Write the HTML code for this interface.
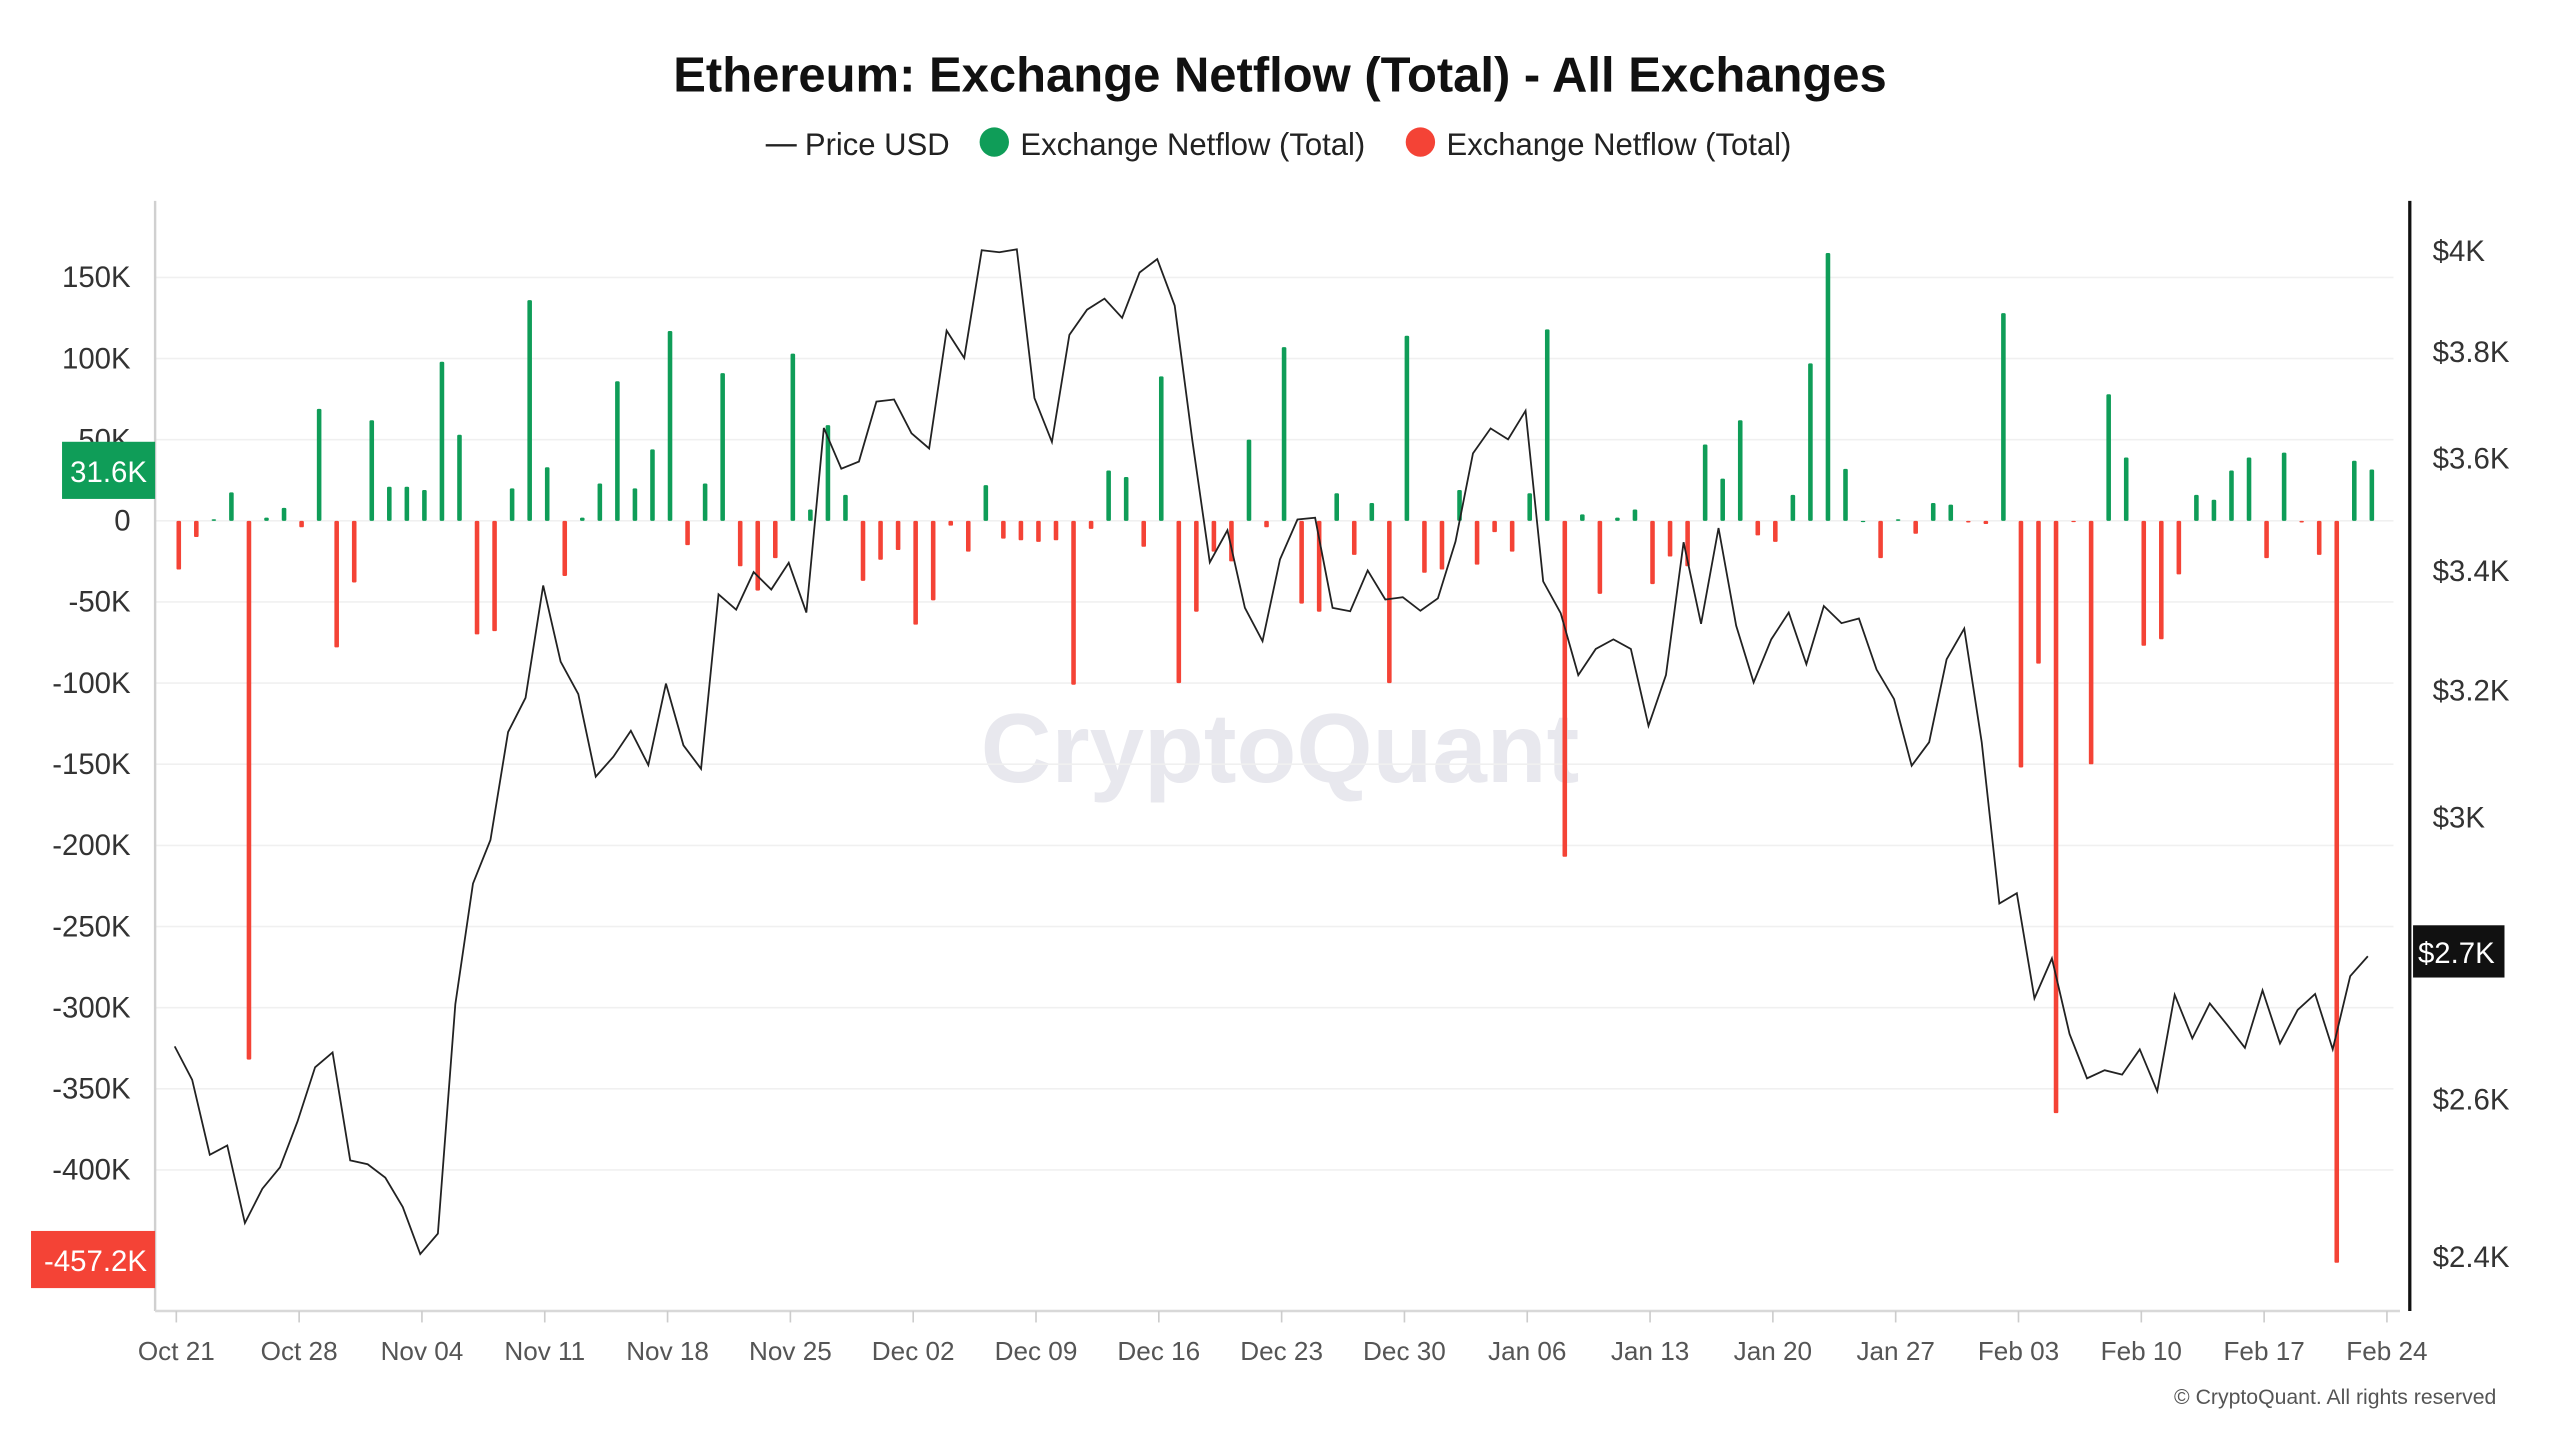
<!DOCTYPE html>
<html><head><meta charset="utf-8"><title>Ethereum Exchange Netflow</title>
<style>
html,body{margin:0;padding:0;background:#fff;}
svg{display:block;font-family:"Liberation Sans",sans-serif;}
</style></head>
<body>
<svg id="chart" width="2560" height="1440" viewBox="0 0 1568 882" xmlns="http://www.w3.org/2000/svg">
<rect x="0" y="0" width="1568" height="882" fill="#fff"/>
<text x="784" y="56" text-anchor="middle" font-size="30" font-weight="bold" fill="#111">Ethereum: Exchange Netflow (Total) - All Exchanges</text>
<g font-size="19" fill="#222">
  <g><line x1="469" y1="89" x2="488" y2="89" stroke="#222" stroke-width="1.5"/><text x="493" y="95">Price USD</text></g>
  <g><circle cx="609" cy="87" r="9" fill="#0f9d58"/><text x="625" y="95">Exchange Netflow (Total)</text></g>
  <g><circle cx="870" cy="87" r="9" fill="#f44336"/><text x="886" y="95">Exchange Netflow (Total)</text></g>
</g>
<text x="784" y="479" text-anchor="middle" font-size="60" font-weight="bold" fill="#e8e8ee">CryptoQuant</text>
<g id="grid"></g>
<g id="yLeft"></g>
<g id="yRight"></g>
<g id="xAxis"></g>
<g id="bars"></g>
<g id="line"></g>
<g id="badges"></g>
<text x="1529" y="860" text-anchor="end" font-size="13" fill="#555">© CryptoQuant. All rights reserved</text>
</svg>
<script>
const netflowK = [-30,-10,1,17.5,-332,2,8,-4,69,-78,-38,62,21,21,19,98,53,-70,-68,20,136,33,-34,2,23,86,20,44,117,-15,23,91,-28,-43,-23,103,7,59,16,-37,-24,-18,-64,-49,
-3,-19,22,-11,-12,-13,-12,-101,-5,31,27,-16,89,-100,-56,-19,-25,50,-4,107,-51,-56,17,-21,11,-100,114,-32,-30,19,-27,-7,-19,17,118,-207,4,-45,2,7,-39,-22,-28,47,26,
62,-9,-13,16,97,165,32,0,-23,1,-8,11,10,-1,-2,128,-152,-88,-365,-0.5,-150,78,39,-77,-73,-33,16,13,31,39,-23,42,-1,-21,-457.2,37,31.6];
const priceUSD = [2669,2624,2526,2538,2440,2483,2510,2569,2641,2661,2519,2514,2497,2460,2402,2427,2727,2899,2964,3131,3186,3373,3245,3192,3061,3092,3133,3079,3209,3110,3073,3358,3332,3396,3366,3412,3327,3654,3579,3592,3703,3707,3644,3616,
3839,3786,3999,3995,4001,3710,3628,3831,3880,3902,3864,3954,3981,3888,3631,3413,3469,3335,3279,3418,3488,3491,3335,3329,3399,3349,3353,3330,3351,3449,3607,3653,3633,3686,3380,3326,3223,3266,3282,3266,3141,3223,3448,3308,3473,
3305,3211,3282,3327,3241,3338,3309,3317,3232,3184,3078,3115,3249,3300,3115,2870,2885,2735,2791,2686,2626,2637,2631,2665,2609,2740,2680,2728,2698,2667,2746,2673,2719,2741,2665,2766,2794];
const leftTicks = [150,100,50,0,-50,-100,-150,-200,-250,-300,-350,-400];
const leftTickLabels = ["150K","100K","50K","0","-50K","-100K","-150K","-200K","-250K","-300K","-350K","-400K"];
const rightTicks = [4000,3800,3600,3400,3200,3000,2600,2400];
const rightTickLabels = ["$4K","$3.8K","$3.6K","$3.4K","$3.2K","$3K","$2.6K","$2.4K"];
const xTickLabels = ["Oct 21","Oct 28","Nov 04","Nov 11","Nov 18","Nov 25","Dec 02","Dec 09","Dec 16","Dec 23","Dec 30","Jan 06","Jan 13","Jan 20","Jan 27","Feb 03","Feb 10","Feb 17","Feb 24"];

const NS="http://www.w3.org/2000/svg";
const X0=108, DAY=10.746, PL=95, PR=1466;
const xScale=d=>X0+d*DAY;
const yLeft=k=>319-k/50*49.7;
const yRight=p=>153+1206*Math.log(4000/p);
function mk(tag,attrs,parent){const e=document.createElementNS(NS,tag);for(const k in attrs)e.setAttribute(k,attrs[k]);parent.appendChild(e);return e;}

const grid=document.getElementById('grid'), gl=document.getElementById('yLeft'), gr=document.getElementById('yRight'), gx=document.getElementById('xAxis');
leftTicks.forEach((t,i)=>{
  const y=yLeft(t);
  const ln=mk('line',{x1:PL,x2:PR,y1:y,y2:y,stroke:'#f0f0f0','stroke-width':1},grid);
  
  
  const tx=mk('text',{x:80,y:y+6,'text-anchor':'end','font-size':18,fill:'#333'},gl);
  tx.textContent=leftTickLabels[i];
  
  
});
const la=mk('line',{x1:95,x2:95,y1:123,y2:803,stroke:'#d0d0d0','stroke-width':1.5},gl);


const ra=mk('line',{x1:1476,x2:1476,y1:123,y2:803,stroke:'#111','stroke-width':2},gr);


rightTicks.forEach((t,i)=>{
  const tx=mk('text',{x:1490,y:yRight(t)+7,'font-size':18,fill:'#333'},gr);
  tx.textContent=rightTickLabels[i];
  
  
});
const bl=mk('line',{x1:95,x2:1470,y1:803,y2:803,stroke:'#d8d8d8','stroke-width':1.5},gx);


xTickLabels.forEach((lab,i)=>{
  const x=xScale(i*7);
  const tk=mk('line',{x1:x,x2:x,y1:803,y2:810,stroke:'#ccc','stroke-width':1},gx);
  
  
  const tx=mk('text',{x:x,y:833,'text-anchor':'middle','font-size':16,fill:'#555'},gx);
  tx.textContent=lab;
  
  
});
const gb=document.getElementById('bars');
netflowK.forEach((v,d)=>{
  const x=xScale(d)+1.5, y0=yLeft(0), y1=yLeft(v);
  const r=mk('rect',{x:x-1.4,y:Math.min(y0,y1),width:2.8,height:Math.max(0.8,Math.abs(y1-y0)),fill:v>=0?'#0f9d58':'#f44336',rx:0.8},gb);
  
  
});
const gline=document.getElementById('line');
const pts=priceUSD.map((p,d)=>(xScale(d)-1).toFixed(1)+','+yRight(p).toFixed(1)).join(' ');
const pl=mk('polyline',{points:pts,fill:'none',stroke:'#222','stroke-width':1.1},gline);



const gbd=document.getElementById('badges');
function badge(name,x,y,w,h,fill,txt,tx,anchor){
  const g=mk('g',{},gbd);
  
  
  mk('rect',{x:x,y:y,width:w,height:h,fill:fill},g);
  const t=mk('text',{x:tx,y:y+h/2+7,'text-anchor':anchor,'font-size':18,fill:'#fff'},g);
  t.textContent=txt;
}
const lastNet=netflowK[netflowK.length-1];
const minNet=Math.min(...netflowK);
const lastPrice=priceUSD[priceUSD.length-1];
badge('last-netflow-badge',38,yLeft(lastNet)+0.5-17.5,57,35,'#0f9d58',lastNet.toFixed(1)+'K',90,'end');
badge('min-netflow-badge',19,yLeft(minNet)-2-17.5,76,35,'#f44336',minNet.toFixed(1)+'K',90,'end');
badge('last-price-badge',1478,yRight(lastPrice)-19,56,32,'#111','$'+(Math.floor(lastPrice/100)/10).toFixed(1)+'K',1481,'start');
</script>
</body></html>
